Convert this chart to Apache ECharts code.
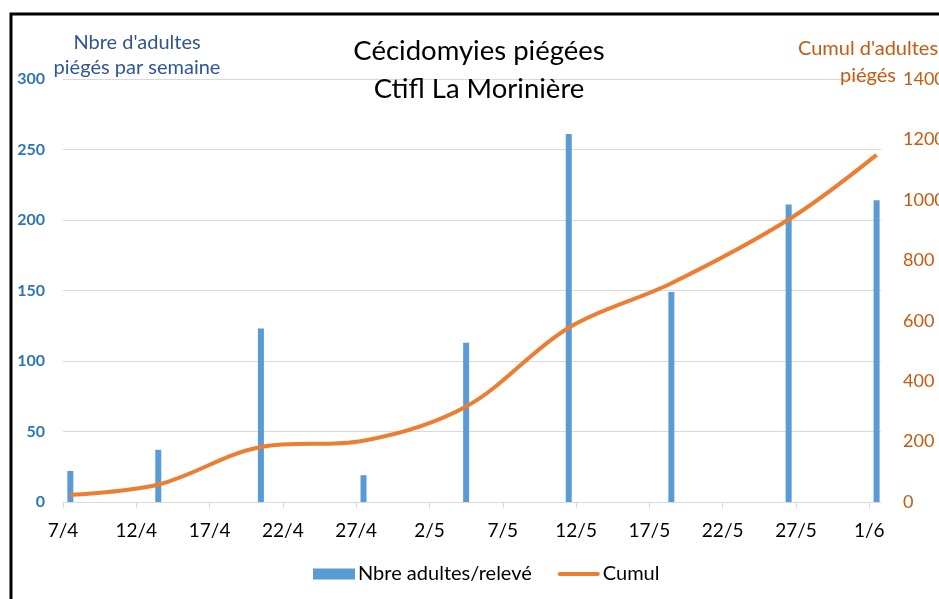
<!DOCTYPE html>
<html><head><meta charset="utf-8">
<script src="https://cdn.jsdelivr.net/npm/echarts@6/dist/echarts.min.js"></script>
<style>html,body{margin:0;padding:0;background:#fff}#c{width:939px;height:599px}</style>
</head><body><div id="c"></div>
<script>
const startDate = '7/4';
const releveDates = ['7/4','13/4','20/4','27/4','4/5','11/5','18/5','26/5','1/6'];
const adultesReleve = [22,37,123,19,113,261,149,211,214];
const cumul = [24,58,182,203,316,577,724,935,1149];
const tickLabels = ['7/4','12/4','17/4','22/4','27/4','2/5','7/5','12/5','17/5','22/5','27/5','1/6'];
const leftTicks = [0,50,100,150,200,250,300];
const rightTicks = [0,200,400,600,800,1000,1200,1400];

function dayIndex(s){const [d,m]=s.split('/').map(Number);const [d0,m0]=startDate.split('/').map(Number);
  return Math.round((Date.UTC(2020,m-1,d)-Date.UTC(2020,m0-1,d0))/86400000);}
const tickPos = tickLabels.map(dayIndex);
const labelMap = {}; tickLabels.forEach(t=>labelMap[dayIndex(t)]=t);
const font = 'Lato, "Open Sans", sans-serif';

const chart = echarts.init(document.getElementById('c'));
chart.setOption({
  animation:false,
  textStyle:{fontFamily:font},
  title:[
    {text:'Cécidomyies piégées\nCtifl La Morinière',left:474,top:27,textAlign:'center',
     textStyle:{fontFamily:font,fontSize:27.5,fontWeight:'normal',color:'#000',lineHeight:38}},
    {text:"Nbre d'adultes\npiégés par semaine",left:132,top:25,textAlign:'center',
     textStyle:{fontFamily:font,fontSize:20,fontWeight:'normal',color:'#2F5597',lineHeight:25}},
    {text:"Cumul d'adultes\npiégés",left:863,top:30,textAlign:'center',
     textStyle:{fontFamily:font,fontSize:20,fontWeight:'normal',color:'#C55A11',lineHeight:27}}
  ],
  graphic:[{type:'rect',shape:{x:11,y:14,width:2000,height:2000},style:{fill:'none',stroke:'#000',lineWidth:3},z:100}],
  legend:{bottom:10,left:308,itemWidth:42,itemHeight:11,itemGap:26,
    textStyle:{fontFamily:font,fontSize:20,color:'#000',padding:[0,0,0,-2]},
    data:[{name:'Nbre adultes/relevé',icon:'rect'},
          {name:'Cumul',icon:'path://M2,0L40,0A2,2,0,0,1,40,4L2,4A2,2,0,0,1,2,0Z'}]},
  grid:{left:63,right:58,top:79,bottom:97,containLabel:false,outerBoundsMode:'none'},
  xAxis:{type:'value',min:0,max:55.8,
    axisLine:{show:true,lineStyle:{color:'#D9D9D9',width:1}},
    axisTick:{show:true,customValues:tickPos,length:6,lineStyle:{color:'#D9D9D9'}},
    axisLabel:{customValues:tickPos,formatter:v=>labelMap[Math.round(v)]||'',fontFamily:font,fontSize:19,color:'#000',margin:19},
    splitLine:{show:false}},
  yAxis:[
    {type:'value',min:0,max:300,interval:50,
     axisLine:{show:false},axisTick:{show:false},
     axisLabel:{fontFamily:font,fontSize:16,fontWeight:'bold',color:'#2E75B6',margin:18},
     splitLine:{lineStyle:{color:'#D9D9D9',width:1}}},
    {type:'value',min:0,max:1400,interval:200,position:'right',
     axisLine:{show:false},axisTick:{show:false},
     axisLabel:{fontFamily:font,fontSize:18,color:'#C55A11',margin:22,formatter:v=>String(v)},
     splitLine:{show:false}}
  ],
  series:[
    {name:'Nbre adultes/relevé',type:'bar',yAxisIndex:0,barWidth:6,
     itemStyle:{color:'#5B9BD5'},
     data:releveDates.map((d,i)=>[dayIndex(d)+0.5,adultesReleve[i]])},
    {name:'Cumul',type:'line',yAxisIndex:1,smooth:0.35,symbol:'none',
     lineStyle:{color:'#ED7D31',width:4},itemStyle:{color:'#ED7D31'},
     data:releveDates.map((d,i)=>[dayIndex(d)+0.5,cumul[i]])}
  ]
});
</script></body></html>
